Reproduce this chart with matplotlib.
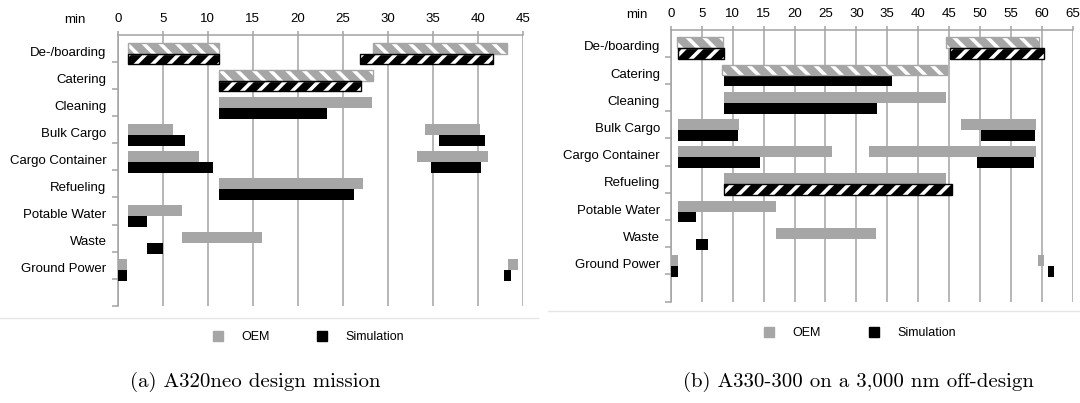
import matplotlib.pyplot as plt
from matplotlib.lines import Line2D
from matplotlib.patches import Patch
import numpy as np

plt.rcParams['font.family'] = ['Liberation Sans', 'DejaVu Sans']
plt.rcParams['hatch.linewidth'] = 2.6

categories = ['De-/boarding', 'Catering', 'Cleaning', 'Bulk Cargo', 'Cargo Container',
              'Refueling', 'Potable Water', 'Waste', 'Ground Power']

# (start, end) in minutes for every category
a320_oem = [
    [(1.1, 11.3), (28.4, 43.3)],
    [(11.3, 28.4)],
    [(11.3, 28.3)],
    [(1.1, 6.1), (34.1, 40.2)],
    [(1.1, 9.0), (33.2, 41.1)],
    [(11.3, 27.3)],
    [(1.1, 7.1)],
    [(7.1, 16.0)],
    [(0, 1.0), (43.4, 44.5)],
]
a320_sim = [
    [(1.1, 11.3), (26.9, 41.7)],
    [(11.3, 27.0)],
    [(11.3, 23.2)],
    [(1.1, 7.5), (35.7, 40.8)],
    [(1.1, 10.6), (34.8, 40.4)],
    [(11.3, 26.3)],
    [(1.1, 3.2)],
    [(3.3, 5.0)],
    [(0, 1.0), (42.9, 43.7)],
]
a320_oem_hatched = ['De-/boarding', 'Catering']
a320_sim_hatched = ['De-/boarding', 'Catering']

a330_oem = [
    [(0.9, 8.4), (44.5, 59.5)],
    [(8.3, 44.6)],
    [(8.6, 44.5)],
    [(1.1, 11.0), (47.0, 59.0)],
    [(1.1, 26.1), (32.1, 59.0)],
    [(8.6, 44.5)],
    [(1.1, 17.0)],
    [(17.0, 33.1)],
    [(0, 1.1), (59.4, 60.4)],
]
a330_sim = [
    [(1.1, 8.6), (45.2, 60.3)],
    [(8.6, 35.8)],
    [(8.6, 33.3)],
    [(1.1, 10.9), (50.1, 58.9)],
    [(1.1, 14.4), (49.5, 58.7)],
    [(8.6, 45.4)],
    [(1.1, 4.1)],
    [(4.1, 6.0)],
    [(0, 1.1), (61.0, 62.0)],
]
a330_oem_hatched = ['De-/boarding', 'Catering']
a330_sim_hatched = ['De-/boarding', 'Refueling']

GRAY = '#a6a6a6'
GRID = '#a3a3a3'


def draw_panel(ax, oem, sim, oem_hatch, sim_hatch, xmax):
    for i, cat in enumerate(categories):
        rows = [(oem[i], i + 0.485, GRAY, cat in oem_hatch, '\\\\'),
                (sim[i], i + 0.885, 'black', cat in sim_hatch, '//')]
        for segs, yc, col, hatched, pat in rows:
            starts = [s for s, e in segs]
            widths = [e - s for s, e in segs]
            ys = [yc] * len(segs)
            if hatched:
                ax.barh(ys, widths, left=starts, height=0.4, color=col,
                        edgecolor='white', hatch=pat, linewidth=0, zorder=3)
                ax.barh(ys, widths, left=starts, height=0.4, fill=False,
                        edgecolor=col, linewidth=1.0, zorder=4)
            else:
                ax.barh(ys, widths, left=starts, height=0.4, color=col,
                        linewidth=0, zorder=3)
    ax.set_xlim(0, xmax)
    ax.set_ylim(10, 0)
    ax.xaxis.tick_top()
    ax.set_xticks(np.arange(0, xmax + 1, 5))
    ax.tick_params(axis='x', length=3, color=GRID, labelsize=9.5, pad=4, width=1.1)
    ax.grid(axis='x', color=GRID, linewidth=1.1)
    ax.set_axisbelow(True)
    for s in ['bottom', 'right']:
        ax.spines[s].set_visible(False)
    for s in ['top', 'left']:
        ax.spines[s].set_color(GRID)
        ax.spines[s].set_linewidth(1.1)
    ax.set_yticks(np.arange(1, 11))
    ax.set_yticklabels([])
    ax.tick_params(axis='y', which='major', length=4, color=GRID, width=1.1)
    ax.set_yticks(np.arange(9) + 0.6, minor=True)
    ax.set_yticklabels(categories, minor=True)
    ax.tick_params(axis='y', which='minor', length=0, labelsize=9.5, pad=8)
    handles = [Patch(color=GRAY, label='OEM'), Patch(color='black', label='Simulation')]
    ax.legend(handles=handles, loc='center', bbox_to_anchor=(0.471, -0.115), ncol=2,
              frameon=False, fontsize=9, handlelength=0.8, handleheight=0.9,
              handletextpad=1.45, columnspacing=3.85)


fig = plt.figure(figsize=(10.8, 4.03), dpi=100)
ax1 = fig.add_axes([0.109, 0.2414, 0.375, 0.6717])
ax2 = fig.add_axes([0.6213, 0.2514, 0.3719, 0.675])

draw_panel(ax1, a320_oem, a320_sim, a320_oem_hatched, a320_sim_hatched, 45)
draw_panel(ax2, a330_oem, a330_sim, a330_oem_hatched, a330_sim_hatched, 65)

fig.text(75 / 1080, 1 - 20 / 403, 'min', fontsize=9.5, ha='center', va='center')
fig.text(637 / 1080, 1 - 15 / 403, 'min', fontsize=9.5, ha='center', va='center')

fig.add_artist(Line2D([0, 538 / 1080], [1 - 318 / 403] * 2, color='#e6e6e6', lw=1))
fig.add_artist(Line2D([548 / 1080, 1], [1 - 311 / 403] * 2, color='#e6e6e6', lw=1))

fig.text(255 / 1080, 1 - 382 / 403, '(a) A320neo design mission',
         family='cmr10', fontsize=15, ha='center', va='center')
fig.text(858 / 1080, 1 - 382 / 403, '(b) A330-300 on a 3,000 nm off-design',
         family='cmr10', fontsize=15, ha='center', va='center')

plt.savefig('out.png', dpi=100)
